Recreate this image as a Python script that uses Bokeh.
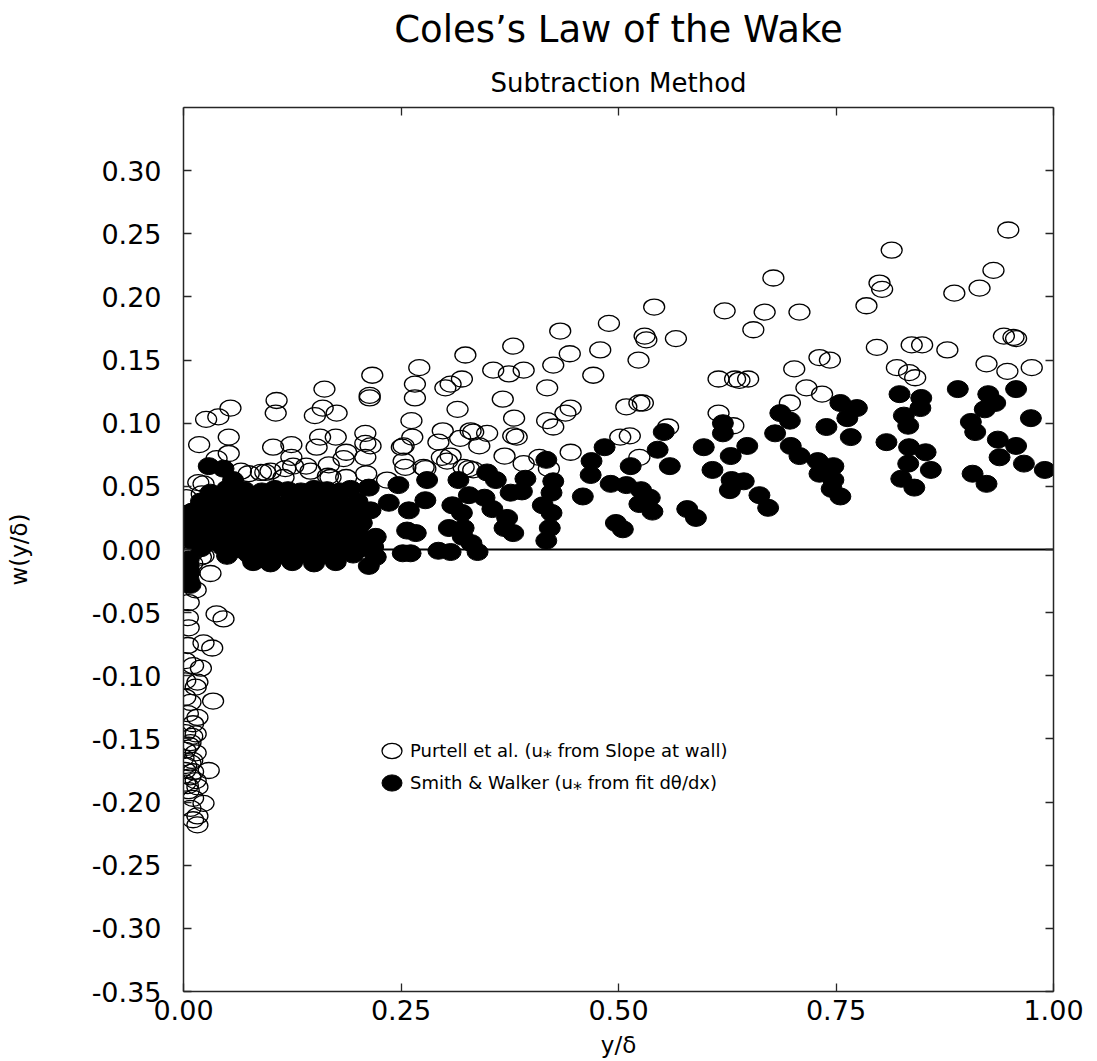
import math
from bokeh.plotting import figure
from bokeh.models import (Span, Legend, LegendItem, LinearAxis, FixedTicker,
                          NumeralTickFormatter, CustomJSTickFormatter, Range1d,
                          ColumnDataSource, Title)
from bokeh.embed import file_html
from bokeh.resources import INLINE

# ---- Purtell et al. (u* from slope at wall) : y/delta, w(y/delta) ----
purtell_x = [
    0.948, 0.814, 0.678, 0.931, 0.800, 0.803, 0.785, 0.886, 0.915, 0.541,
    0.622, 0.668, 0.708, 0.489, 0.433, 0.655, 0.530, 0.532, 0.566, 0.943,
    0.954, 0.957, 0.797, 0.837, 0.849, 0.878, 0.379, 0.479, 0.444, 0.324,
    0.523, 0.731, 0.743, 0.425, 0.702, 0.820, 0.923, 0.975, 0.356, 0.374,
    0.391, 0.471, 0.320, 0.834, 0.841, 0.947, 0.615, 0.634, 0.639, 0.649,
    0.418, 0.716, 0.734, 0.367, 0.697, 0.509, 0.524, 0.528, 0.445, 0.315,
    0.615, 0.439, 0.380, 0.418, 0.425, 0.632, 0.557, 0.333, 0.349, 0.318,
    0.379, 0.383, 0.502, 0.513, 0.340, 0.445, 0.369, 0.524, 0.409, 0.391,
    0.420, 0.328, 0.333, 0.307, 0.307,
    0.271, 0.217, 0.162, 0.301, 0.266, 0.266, 0.214, 0.214, 0.107, 0.106,
    0.054, 0.040, 0.026, 0.160, 0.151, 0.176, 0.262, 0.018, 0.052, 0.052,
    0.103, 0.124, 0.124, 0.126, 0.157, 0.175, 0.153, 0.209, 0.209, 0.215,
    0.187, 0.184, 0.209, 0.263, 0.253, 0.251, 0.298, 0.293, 0.330, 0.297,
    0.255, 0.278, 0.038, 0.141, 0.167, 0.210, 0.169, 0.187, 0.089, 0.094,
    0.075, 0.117, 0.017, 0.021, 0.003,
    0.066, 0.100, 0.115, 0.146, 0.166, 0.234, 0.253, 0.276, 0.303, 0.322,
    0.023, 0.011, 0.020, 0.031, 0.002, 0.023, 0.010,
    0.006, 0.038, 0.046, 0.005, 0.006, 0.005, 0.023, 0.033, 0.002, 0.011,
    0.020, 0.002, 0.016, 0.014, 0.034, 0.002, 0.008, 0.005, 0.016, 0.011,
    0.002, 0.014, 0.008, 0.002, 0.014, 0.000, 0.008, 0.029, 0.002, 0.008,
    0.014, 0.002, 0.016, 0.006, 0.011, 0.023, 0.008, 0.016, 0.011, 0.016,
    0.006, 0.010, 0.003, 0.011, 0.005, 0.010, 0.006, 0.014,
]
purtell_w = [
    0.253, 0.237, 0.215, 0.221, 0.211, 0.206, 0.193, 0.203, 0.207, 0.192,
    0.189, 0.188, 0.188, 0.179, 0.173, 0.174, 0.169, 0.166, 0.167, 0.169,
    0.168, 0.167, 0.160, 0.162, 0.162, 0.158, 0.161, 0.158, 0.155, 0.154,
    0.150, 0.152, 0.150, 0.146, 0.143, 0.144, 0.147, 0.144, 0.142, 0.139,
    0.142, 0.138, 0.135, 0.140, 0.136, 0.141, 0.135, 0.135, 0.134, 0.135,
    0.128, 0.128, 0.123, 0.119, 0.116, 0.113, 0.116, 0.116, 0.112, 0.111,
    0.108, 0.108, 0.104, 0.102, 0.097, 0.098, 0.097, 0.093, 0.092, 0.088,
    0.090, 0.089, 0.089, 0.090, 0.082, 0.077, 0.074, 0.073, 0.073, 0.068,
    0.064, 0.064, 0.063, 0.131, 0.074,
    0.144, 0.138, 0.127, 0.128, 0.131, 0.120, 0.122, 0.120, 0.118, 0.108,
    0.112, 0.105, 0.103, 0.112, 0.106, 0.108, 0.102, 0.083, 0.089, 0.076,
    0.081, 0.083, 0.073, 0.066, 0.089, 0.089, 0.081, 0.092, 0.084, 0.082,
    0.077, 0.072, 0.073, 0.089, 0.082, 0.081, 0.094, 0.085, 0.094, 0.073,
    0.065, 0.064, 0.072, 0.066, 0.067, 0.060, 0.057, 0.057, 0.061, 0.061,
    0.060, 0.064, 0.053, 0.044, 0.041,
    0.062, 0.062, 0.057, 0.062, 0.058, 0.055, 0.070, 0.065, 0.070, 0.065,
    0.052, -0.002, -0.006, -0.019, -0.005, -0.005, -0.011,
    -0.042, -0.051, -0.055, -0.054, -0.062, -0.076, -0.074, -0.078, -0.088, -0.092,
    -0.094, -0.104, -0.105, -0.109, -0.120, -0.117, -0.121, -0.130, -0.133, -0.138,
    -0.145, -0.146, -0.153, -0.159, -0.161, -0.165, -0.169, -0.175, -0.175, -0.180,
    -0.183, -0.185, -0.188, -0.191, -0.197, -0.201, -0.205, -0.211, -0.214, -0.218,
    -0.155, -0.167, -0.171, -0.176, -0.187, -0.148, -0.028, -0.032,
]

# ---- Smith & Walker (u* from fit d theta/dx) : y/delta, w(y/delta) ----
smith_x = [
    0.890, 0.823, 0.957, 0.925, 0.933, 0.921, 0.848, 0.847, 0.755, 0.774,
    0.763, 0.974, 0.686, 0.697, 0.828, 0.833, 0.905, 0.910, 0.739, 0.767,
    0.680, 0.808, 0.936, 0.957, 0.834, 0.853, 0.938, 0.620, 0.620, 0.552,
    0.698, 0.708, 0.598, 0.648, 0.545, 0.966, 0.990, 0.833, 0.859, 0.729,
    0.747, 0.629, 0.559, 0.484, 0.469, 0.468, 0.514, 0.417, 0.825, 0.840,
    0.907, 0.923, 0.731, 0.747, 0.755, 0.745, 0.608, 0.630, 0.644, 0.628,
    0.662, 0.672, 0.349, 0.359, 0.393, 0.425, 0.423, 0.376, 0.389, 0.491,
    0.509, 0.526, 0.536, 0.459, 0.524, 0.539, 0.316, 0.346, 0.320, 0.355,
    0.372, 0.413, 0.423, 0.369, 0.379, 0.421, 0.417, 0.579, 0.589, 0.497,
    0.505, 0.322, 0.331, 0.338, 0.307,
    0.213, 0.247, 0.280, 0.236, 0.259, 0.278, 0.309, 0.328, 0.221, 0.221,
    0.252, 0.293, 0.267, 0.321, 0.213, 0.305, 0.261, 0.215, 0.218, 0.257,
    0.029, 0.046, 0.057, 0.031,
    0.050, 0.070, 0.090, 0.105, 0.120, 0.135, 0.150, 0.165, 0.180, 0.192,
    0.020, 0.040, 0.060, 0.080, 0.100, 0.120, 0.140, 0.160, 0.180, 0.200,
    0.010, 0.030, 0.050, 0.070, 0.090, 0.110, 0.130, 0.150, 0.170, 0.190, 0.208,
    0.005, 0.025, 0.045, 0.065, 0.085, 0.105, 0.125, 0.145, 0.165, 0.185, 0.205,
    0.002, 0.020, 0.040, 0.060, 0.080, 0.100, 0.120, 0.140, 0.160, 0.180, 0.200,
    0.010, 0.030, 0.050, 0.070, 0.090, 0.110, 0.130, 0.150, 0.170, 0.190, 0.210,
    0.020, 0.045, 0.065, 0.085, 0.105, 0.125, 0.145, 0.165, 0.185, 0.205,
    0.050, 0.075, 0.095, 0.115, 0.135, 0.155, 0.175, 0.195,
    0.080, 0.100, 0.125, 0.150, 0.175,
    0.006, 0.006, 0.007, 0.006, 0.008,
]
smith_w = [
    0.127, 0.123, 0.127, 0.123, 0.116, 0.111, 0.120, 0.112, 0.116, 0.112,
    0.104, 0.104, 0.108, 0.102, 0.106, 0.098, 0.101, 0.093, 0.097, 0.089,
    0.092, 0.085, 0.087, 0.082, 0.081, 0.077, 0.073, 0.100, 0.092, 0.093,
    0.082, 0.074, 0.081, 0.082, 0.079, 0.068, 0.063, 0.068, 0.063, 0.070,
    0.066, 0.074, 0.066, 0.081, 0.070, 0.059, 0.066, 0.071, 0.056, 0.049,
    0.060, 0.052, 0.060, 0.055, 0.042, 0.048, 0.063, 0.055, 0.054, 0.047,
    0.043, 0.033, 0.061, 0.055, 0.056, 0.054, 0.045, 0.045, 0.046, 0.052,
    0.051, 0.047, 0.041, 0.042, 0.036, 0.030, 0.055, 0.041, 0.029, 0.032,
    0.025, 0.035, 0.029, 0.017, 0.013, 0.017, 0.007, 0.032, 0.025, 0.021,
    0.016, 0.017, 0.005, -0.002, -0.002,
    0.049, 0.051, 0.055, 0.037, 0.031, 0.039, 0.035, 0.043, 0.010, -0.006,
    -0.003, -0.001, 0.013, 0.010, -0.013, 0.017, -0.003, 0.031, 0.002, 0.015,
    0.066, 0.064, 0.055, 0.045,
    0.048, 0.047, 0.046, 0.048, 0.047, 0.046, 0.048, 0.047, 0.046, 0.048,
    0.038, 0.039, 0.037, 0.038, 0.039, 0.037, 0.038, 0.039, 0.037, 0.038,
    0.030, 0.031, 0.029, 0.030, 0.031, 0.029, 0.030, 0.031, 0.029, 0.030, 0.031,
    0.022, 0.021, 0.023, 0.022, 0.021, 0.023, 0.022, 0.021, 0.023, 0.022, 0.021,
    0.014, 0.015, 0.013, 0.014, 0.015, 0.013, 0.014, 0.015, 0.013, 0.014, 0.015,
    0.007, 0.006, 0.008, 0.007, 0.006, 0.008, 0.007, 0.006, 0.008, 0.007, 0.006,
    0.001, 0.002, 0.000, 0.001, 0.002, 0.000, 0.001, 0.002, 0.000, 0.001,
    -0.005, -0.004, -0.006, -0.005, -0.004, -0.006, -0.005, -0.004,
    -0.010, -0.011, -0.010, -0.011, -0.010,
    -0.008, -0.013, -0.018, -0.024, -0.028,
]

x_ticks = [0.0, 0.25, 0.5, 0.75, 1.0]
y_ticks = [-0.35, -0.30, -0.25, -0.20, -0.15, -0.10, -0.05,
           0.0, 0.05, 0.10, 0.15, 0.20, 0.25, 0.30]

title_text = "Coles\u2019s Law of the Wake"
subtitle_text = "Subtraction Method"
x_label = "y/\u03b4"
y_label = "w(y/\u03b4)"
purtell_label = "Purtell et al. (u\u204e from Slope at wall)"
smith_label = "Smith & Walker (u\u204e from fit d\u03b8/dx)"

FONT = "DejaVu Sans"
AXIS_COLOR = "#262626"

p = figure(width=1097, height=1061,
           x_range=Range1d(0.0, 1.0), y_range=Range1d(-0.35, 0.35),
           min_border_left=183, min_border_right=44,
           min_border_top=0, min_border_bottom=70,
           output_backend="svg", toolbar_location=None)
p.outline_line_color = None
p.grid.visible = False
p.background_fill_color = "white"
p.border_fill_color = "white"

# horizontal reference line at w = 0
p.add_layout(Span(location=0.0, dimension="width", line_color="black",
                  line_width=2, level="underlay"))

src_p = ColumnDataSource(dict(x=purtell_x, w=purtell_w))
src_s = ColumnDataSource(dict(x=smith_x, w=smith_w))

r_open = p.ellipse(x="x", y="w", width=21, height=16,
                   width_units="screen", height_units="screen",
                   source=src_p, fill_color=None,
                   line_color="black", line_width=1.3)
r_fill = p.ellipse(x="x", y="w", width=21, height=17,
                   width_units="screen", height_units="screen",
                   source=src_s, fill_color="black",
                   line_color="black", line_width=1)


def style_axis(ax, labelled):
    ax.major_tick_in = 8
    ax.major_tick_out = 0
    ax.minor_tick_in = 0
    ax.minor_tick_out = 0
    ax.axis_line_color = AXIS_COLOR
    ax.axis_line_width = 1.5
    ax.major_tick_line_color = AXIS_COLOR
    ax.major_tick_line_width = 1.3
    ax.major_label_text_font = FONT
    ax.major_label_text_font_size = "27px"
    ax.major_label_text_color = "black"
    ax.axis_label_text_font = FONT
    ax.axis_label_text_font_size = "23px"
    ax.axis_label_text_font_style = "normal"
    ax.axis_label_text_color = "black"
    if not labelled:
        ax.formatter = CustomJSTickFormatter(code="return ''")
        ax.major_label_standoff = 0


xa = p.xaxis[0]
xa.ticker = FixedTicker(ticks=x_ticks)
xa.formatter = NumeralTickFormatter(format="0.00")
style_axis(xa, True)
xa.major_label_standoff = 8
xa.axis_label = x_label
xa.axis_label_standoff = 9

ya = p.yaxis[0]
ya.ticker = FixedTicker(ticks=y_ticks)
ya.formatter = NumeralTickFormatter(format="0.00")
style_axis(ya, True)
ya.major_label_standoff = 22
ya.axis_label = y_label
ya.axis_label_standoff = 57

top_ax = LinearAxis(ticker=FixedTicker(ticks=x_ticks))
style_axis(top_ax, False)
p.add_layout(top_ax, "above")

right_ax = LinearAxis(ticker=FixedTicker(ticks=y_ticks))
style_axis(right_ax, False)
p.add_layout(right_ax, "right")

# subtitle sits next to the frame, main title above it
p.add_layout(Title(text=subtitle_text, align="center", text_font=FONT,
                   text_font_size="26px", text_font_style="normal",
                   text_color="black", standoff=19), "above")
p.add_layout(Title(text=title_text, align="center", text_font=FONT,
                   text_font_size="37px", text_font_style="normal",
                   text_color="black", standoff=11), "above")

legend = Legend(items=[LegendItem(label=purtell_label, renderers=[r_open]),
                       LegendItem(label=smith_label, renderers=[r_fill])],
                location=(196, 196), orientation="vertical",
                glyph_width=25, glyph_height=25, label_height=25,
                label_standoff=6, spacing=7, padding=0, margin=0,
                border_line_color=None, background_fill_alpha=0,
                label_text_font=FONT, label_text_font_size="18px",
                label_text_color="black", label_text_baseline="middle")
p.add_layout(legend, "center")

open("out.html", "w").write(file_html(p, INLINE))
